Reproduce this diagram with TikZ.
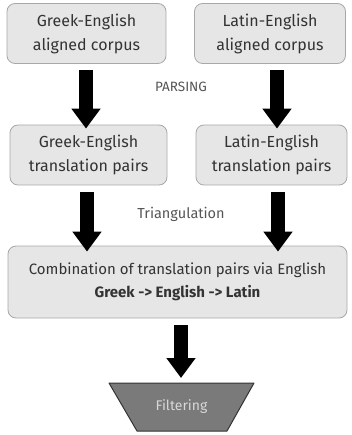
\documentclass[tikz,border=0pt]{standalone}
\usepackage{fontspec}
\setmainfont{Fira Sans}
\usetikzlibrary{arrows.meta}
\definecolor{boxfill}{HTML}{E6E6E6}
\definecolor{boxborder}{HTML}{A8A8A8}
\definecolor{textcol}{HTML}{333333}
\definecolor{labelcol}{HTML}{555555}
\definecolor{trapfill}{HTML}{7A7A7A}
\definecolor{trapborder}{HTML}{333333}
\definecolor{traptext}{HTML}{D8D8D8}
\tikzset{
  x=1pt, y=1pt,
  box/.style={draw=boxborder, fill=boxfill, rounded corners=8pt, line width=0.8pt,
    align=center, text=textcol, inner sep=0pt, minimum height=60pt,
    font=\fontsize{16}{24}\selectfont},
  biglabel/.style={text=labelcol, inner sep=0pt},
  bigarrow/.style={line width=14pt, draw=black,
    -{Triangle[width=28pt 0 0, length=20pt 0 0]}},
}
\begin{document}
\begin{tikzpicture}
\useasboundingbox (0,0) rectangle (352,-435);
\node[box, minimum width=159pt] (ga) at (86.5,-33.5) {Greek-English\\aligned corpus};
\node[box, minimum width=151pt] (la) at (270,-33.5) {Latin-English\\aligned corpus};
\node[biglabel, font=\fontsize{13.5}{15}\selectfont] (parsing) at (181,-87) {PARSING};
\node[box, minimum width=157pt] (gp) at (88.5,-155) {Greek-English\\translation pairs};
\node[box, minimum width=151pt] (lp) at (271.5,-155) {Latin-English\\translation pairs};
\node[biglabel, font=\fontsize{14.5}{16}\selectfont] (tri) at (181,-214) {Triangulation};
\node[box, minimum width=339pt, minimum height=72pt, font=\fontsize{15}{23}\selectfont] (comb) at (177.5,-282)
  {Combination of translation pairs via English\\\textbf{Greek -> English -> Latin}};
\draw[draw=trapborder, fill=trapfill, line width=1pt, line join=round]
  (109,-383) -- (254,-383) -- (227,-431) -- (137,-431) -- cycle;
\node[text=traptext, inner sep=0pt, font=\fontsize{14}{16}\selectfont] (filt) at (181.5,-407) {Filtering};
\coordinate (filttop) at (181,-378);
% arrows
\draw[bigarrow] ([xshift=-0.5pt,yshift=-6pt]ga.south) -- ([xshift=-0.5pt,yshift=-4pt]ga.south |- gp.north);
\draw[bigarrow] ([xshift=7pt,yshift=-6pt]la.south) -- ([xshift=7pt,yshift=-4pt]la.south |- lp.north);
\draw[bigarrow] ([xshift=-1.5pt,yshift=-7pt]gp.south) -- ([xshift=-1.5pt,yshift=-6pt]gp.south |- comb.north);
\draw[bigarrow] ([xshift=6.5pt,yshift=-7pt]lp.south) -- ([xshift=6.5pt,yshift=-6pt]lp.south |- comb.north);
\draw[bigarrow] ([xshift=3.5pt,yshift=-7pt]comb.south) -- ([xshift=3.5pt]comb.south |- filttop);
\end{tikzpicture}
\end{document}
